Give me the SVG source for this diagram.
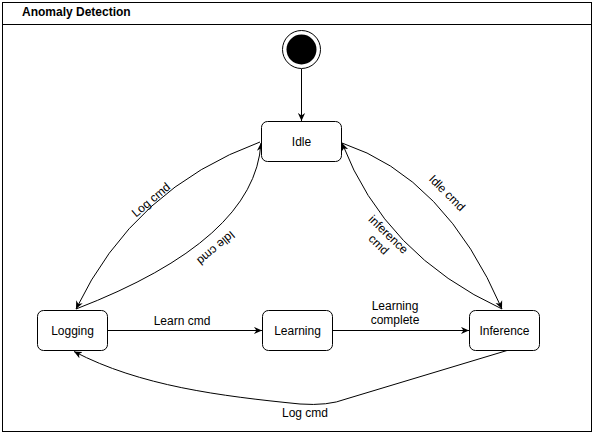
<svg xmlns="http://www.w3.org/2000/svg" width="594" height="434" viewBox="0 0 594 434">
<style>
text{font-family:"Liberation Sans",Arial,sans-serif;font-size:12px;fill:#000}
.node rect{fill:#fff;stroke:#000;stroke-width:1}
.edge{fill:none;stroke:#000;stroke-width:1;marker-end:url(#arr)}
.c{text-anchor:middle}
</style>
<defs>
<marker id="arr" viewBox="0 0 10 10" markerUnits="userSpaceOnUse" markerWidth="8" markerHeight="8" refX="10" refY="5" orient="auto">
<path d="M0,0.5 L10,5 L0,9.5 L3,5 Z" fill="#000"/>
</marker>
</defs>
<g id="frame">
<rect x="2.5" y="2.5" width="589" height="429" fill="#fff" stroke="#000"/>
<line x1="2.5" y1="24.5" x2="591.5" y2="24.5" stroke="#000"/>
<text x="22" y="16" font-weight="bold">Anomaly Detection</text>
</g>
<g id="connectors">
<path class="edge" d="M301.5,69 L301.5,121"/>
<path class="edge" d="M260,142 Q134,188 76,309"/>
<path class="edge" d="M76,309 Q255,240 261,143"/>
<path class="edge" d="M342,143 Q445,177 502,309"/>
<path class="edge" d="M502,309 Q385,255 342,143"/>
<path class="edge" d="M107.5,330.5 L262,330.5"/>
<path class="edge" d="M332.5,330.5 L469,330.5"/>
<path class="edge" d="M507,350.5 L346,399 Q328,406 300,404 C220,396 140,386 74,351.5"/>
<text class="c" transform="translate(151,200) rotate(-40)" y="4">Log cmd</text>
<text class="c" transform="translate(216,248) rotate(140)" y="4">Idle cmd</text>
<text class="c" transform="translate(447,193) rotate(45)" y="4">Idle cmd</text>
<text class="c" transform="translate(383.5,239.5) rotate(44)"><tspan x="0" y="-3">inference</tspan><tspan x="0" y="11">cmd</tspan></text>
<text class="c" x="182" y="325">Learn cmd</text>
<text class="c" x="395" y="310">Learning</text>
<text class="c" x="395" y="324">complete</text>
<text class="c" x="305" y="417">Log cmd</text>
</g>
<g id="initial">
<circle cx="301.5" cy="49.5" r="19" fill="#fff" stroke="#000"/>
<circle cx="301.5" cy="49.5" r="15" fill="#000"/>
</g>
<g id="idle" class="node">
<rect x="261.5" y="121.5" width="80" height="40" rx="6"/>
<text class="c" x="301.5" y="145.5">Idle</text>
</g>
<g id="logging" class="node">
<rect x="37.5" y="310.5" width="70" height="40" rx="6"/>
<text class="c" x="72.5" y="334.5">Logging</text>
</g>
<g id="learning" class="node">
<rect x="262.5" y="310.5" width="70" height="40" rx="6"/>
<text class="c" x="297.5" y="334.5">Learning</text>
</g>
<g id="inference" class="node">
<rect x="469.5" y="310.5" width="70" height="40" rx="6"/>
<text class="c" x="504.5" y="334.5">Inference</text>
</g>
</svg>
